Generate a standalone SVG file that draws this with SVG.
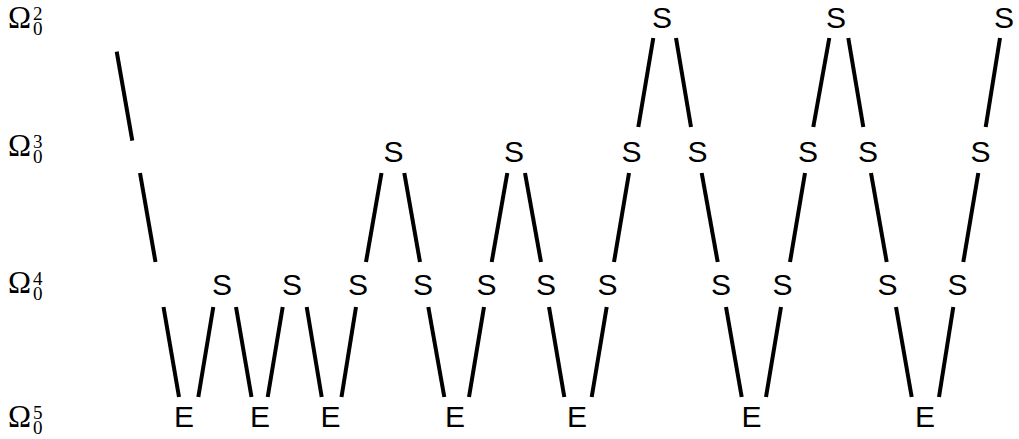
<svg xmlns="http://www.w3.org/2000/svg" width="1019" height="439" viewBox="0 0 1019 439">
<style>
.n{font-family:"Liberation Sans",Arial,sans-serif;font-size:30px;text-anchor:middle;fill:#000}
.om{font-family:"Liberation Serif","Times New Roman",serif;font-size:31px;fill:#000}
.ix{font-family:"Liberation Serif","Times New Roman",serif;font-size:19px;fill:#000}
#edges line{stroke:#000;stroke-width:4;stroke-linecap:butt}
</style>
<rect width="1019" height="439" fill="#fff"/>
<g id="levels">
<g id="lvl2"><text class="om" x="8" y="28">Ω</text><text class="ix" x="33" y="20">2</text><text class="ix" x="33" y="35">0</text></g>
<g id="lvl3"><text class="om" x="8" y="156">Ω</text><text class="ix" x="33" y="148">3</text><text class="ix" x="33" y="163">0</text></g>
<g id="lvl4"><text class="om" x="8" y="293">Ω</text><text class="ix" x="33" y="285">4</text><text class="ix" x="33" y="300">0</text></g>
<g id="lvl5"><text class="om" x="8" y="427">Ω</text><text class="ix" x="33" y="419">5</text><text class="ix" x="33" y="434">0</text></g>
</g>
<g id="edges">
<line x1="116.7" y1="51.7" x2="132.3" y2="140.7"/>
<line x1="140" y1="173" x2="155.5" y2="262"/>
<line x1="163.5" y1="307" x2="179" y2="397"/>
<line x1="213.3" y1="307" x2="198.3" y2="397"/>
<line x1="236" y1="307" x2="251.5" y2="397"/>
<line x1="282.7" y1="307" x2="267.7" y2="397"/>
<line x1="306.7" y1="307" x2="321.7" y2="397"/>
<line x1="356" y1="307" x2="341.5" y2="397"/>
<line x1="381.5" y1="173" x2="366" y2="262"/>
<line x1="404.3" y1="173" x2="420" y2="262"/>
<line x1="428.3" y1="307" x2="444.3" y2="397"/>
<line x1="484" y1="307" x2="469" y2="397"/>
<line x1="507.3" y1="173" x2="491.7" y2="262"/>
<line x1="525" y1="173" x2="541" y2="262"/>
<line x1="549" y1="307" x2="564.3" y2="397"/>
<line x1="606.7" y1="307" x2="591.7" y2="397"/>
<line x1="629" y1="173" x2="614" y2="262"/>
<line x1="653.3" y1="38" x2="638.3" y2="127"/>
<line x1="676" y1="38" x2="691" y2="127"/>
<line x1="701.7" y1="173" x2="717.7" y2="262"/>
<line x1="726" y1="307" x2="741.7" y2="397"/>
<line x1="781" y1="307" x2="766" y2="397"/>
<line x1="805" y1="173" x2="790" y2="262"/>
<line x1="829.3" y1="38" x2="813.3" y2="127"/>
<line x1="848.3" y1="38" x2="863.3" y2="127"/>
<line x1="871" y1="173" x2="886.7" y2="262"/>
<line x1="896" y1="307" x2="911.7" y2="397"/>
<line x1="953.3" y1="307" x2="939" y2="397"/>
<line x1="978.3" y1="173" x2="963.3" y2="262"/>
<line x1="1000" y1="38" x2="985.7" y2="127"/>
</g>
<g id="r2s1"><text class="n" x="662" y="28">S</text></g>
<g id="r2s2"><text class="n" x="836" y="28">S</text></g>
<g id="r2s3"><text class="n" x="1004" y="28">S</text></g>
<g id="r3s1"><text class="n" x="393.5" y="161.5">S</text></g>
<g id="r3s2"><text class="n" x="514" y="161.5">S</text></g>
<g id="r3s3"><text class="n" x="631.5" y="161.5">S</text></g>
<g id="r3s4"><text class="n" x="697.5" y="161.5">S</text></g>
<g id="r3s5"><text class="n" x="808" y="161.5">S</text></g>
<g id="r3s6"><text class="n" x="868" y="161.5">S</text></g>
<g id="r3s7"><text class="n" x="980.5" y="161.5">S</text></g>
<g id="r4s1"><text class="n" x="222" y="295">S</text></g>
<g id="r4s2"><text class="n" x="292" y="295">S</text></g>
<g id="r4s3"><text class="n" x="358" y="295">S</text></g>
<g id="r4s4"><text class="n" x="423" y="295">S</text></g>
<g id="r4s5"><text class="n" x="486.5" y="295">S</text></g>
<g id="r4s6"><text class="n" x="546" y="295">S</text></g>
<g id="r4s7"><text class="n" x="607.5" y="295">S</text></g>
<g id="r4s8"><text class="n" x="721" y="295">S</text></g>
<g id="r4s9"><text class="n" x="782.5" y="295">S</text></g>
<g id="r4s10"><text class="n" x="887.5" y="295">S</text></g>
<g id="r4s11"><text class="n" x="957.5" y="295">S</text></g>
<g id="r5e1"><text class="n" x="184" y="427">E</text></g>
<g id="r5e2"><text class="n" x="260" y="427">E</text></g>
<g id="r5e3"><text class="n" x="330.5" y="427">E</text></g>
<g id="r5e4"><text class="n" x="455" y="427">E</text></g>
<g id="r5e5"><text class="n" x="577" y="427">E</text></g>
<g id="r5e6"><text class="n" x="751.5" y="427">E</text></g>
<g id="r5e7"><text class="n" x="925" y="427">E</text></g>
</svg>
